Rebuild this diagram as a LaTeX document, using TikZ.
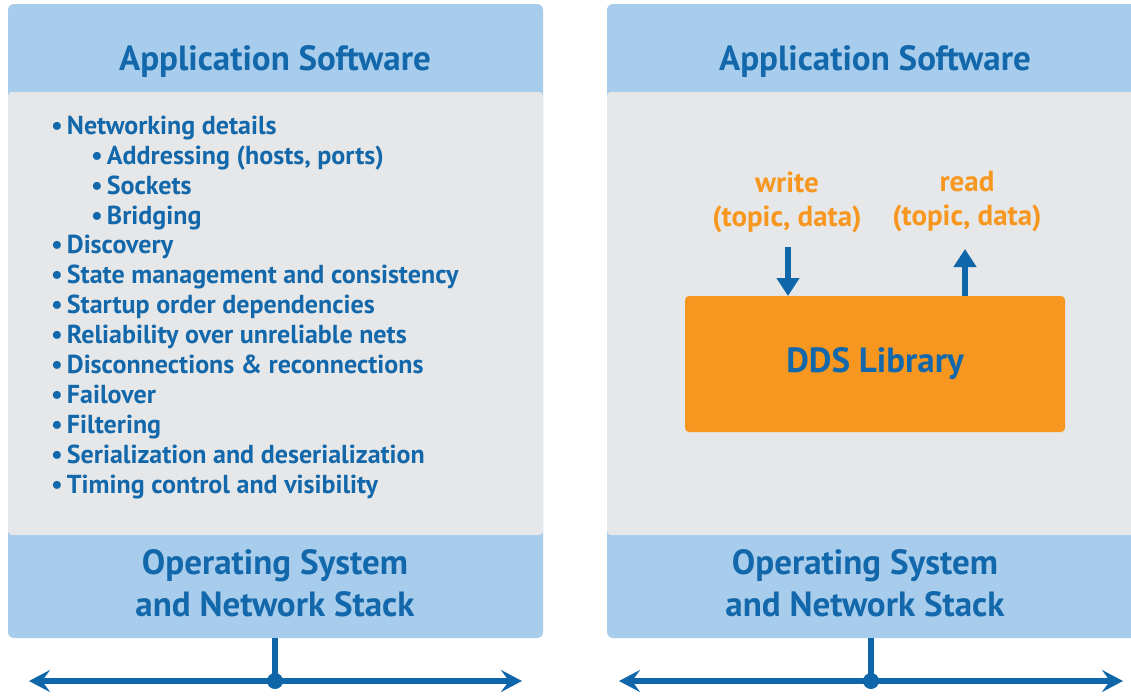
\documentclass[tikz,border=0pt]{standalone}
\usepackage{fontspec}
\setmainfont{PT Sans}
\usetikzlibrary{arrows.meta}
\definecolor{txtblue}{HTML}{1268AA}
\definecolor{lineblue}{HTML}{0F67AA}
\definecolor{paneblue}{HTML}{A8CDEC}
\definecolor{panegray}{HTML}{E6E7E8}
\definecolor{ddsorange}{HTML}{F7971F}
\tikzset{
  title/.style={text=txtblue, font=\bfseries\fontsize{35}{42}\selectfont, inner sep=0pt},
  twoline/.style={title, align=center, font=\bfseries\fontsize{35}{42}\selectfont},
  item/.style={text=txtblue, font=\bfseries\fontsize{26}{30}\selectfont, anchor=base west, inner sep=0pt},
  oplabel/.style={text=ddsorange, align=center, font=\bfseries\fontsize{29}{34}\selectfont, inner sep=0pt},
  bus/.style={draw=lineblue, line width=5.5pt},
  busarrow/.style={bus, {Stealth[length=21pt,width=22pt,inset=8pt]}-{Stealth[length=21pt,width=22pt,inset=8pt]}},
  flow/.style={draw=lineblue, line width=6pt, -{Triangle[length=18pt,width=22pt]}},
}
\begin{document}
\begin{tikzpicture}[x=1pt,y=-1pt]
\clip (0,0) rectangle (1131,696);
\fill[white] (0,0) rectangle (1131,696);

% left panel
\fill[paneblue, rounded corners=6pt] (8,4) rectangle (543,638);
\fill[panegray, rounded corners=4pt] (8,92) rectangle (543,535);
\node[title] (t1) at (275,62) {Application Software};
\node[twoline] (os1) at (275,583) {Operating System\\and Network Stack};

\foreach \y/\t/\n [count=\i] in {
  134/Networking details/0,
  164/Addressing (hosts{,} ports)/1,
  194/Sockets/1,
  224/Bridging/1,
  253/Discovery/0,
  283/State management and consistency/0,
  313/Startup order dependencies/0,
  343/Reliability over unreliable nets/0,
  373/Disconnections \& reconnections/0,
  403/Failover/0,
  433/Filtering/0,
  463/Serialization and deserialization/0,
  493/Timing control and visibility/0}{
  \node[item] (it\i) at (51+40*\n,\y) {•\hspace{4pt}\t};
}

% right panel
\fill[paneblue, rounded corners=6pt] (607,4) rectangle (1145,638);
\fill[panegray, rounded corners=4pt] (607,92) rectangle (1145,535);
\node[title] (t2) at (875,62) {Application Software};
\node[twoline] (os2) at (865,583) {Operating System\\and Network Stack};

\node[fill=ddsorange, rounded corners=4pt, minimum width=380pt, minimum height=136pt, inner sep=0pt,
      text=txtblue, font=\bfseries\fontsize{35}{42}\selectfont] (dds) at (875,364) {DDS Library};

\node[oplabel] (wr) at (787,202) {write\\(topic, data)};
\node[oplabel] (rd) at (967,202) {read\\(topic, data)};

\coordinate (wtop) at (788,247);
\coordinate (wbot) at (788,296);
\coordinate (rbot) at (965,296);
\coordinate (rtop) at (965,249);
\draw[flow] (wtop) -- (wbot);
\draw[flow] (rbot) -- (rtop);

% buses
\coordinate (lj) at (275,681);
\coordinate (lu) at (275,638);
\coordinate (ll) at (29,681);
\coordinate (lr) at (522,681);
\draw[bus] (lu) -- (lj);
\draw[busarrow] (ll) -- (lr);
\fill[lineblue] (lj) circle (8pt);

\coordinate (rj) at (871,681);
\coordinate (ru) at (871,638);
\coordinate (rl) at (619,681);
\coordinate (rr) at (1123,681);
\draw[bus] (ru) -- (rj);
\draw[busarrow] (rl) -- (rr);
\fill[lineblue] (rj) circle (8pt);
\end{tikzpicture}
\end{document}
